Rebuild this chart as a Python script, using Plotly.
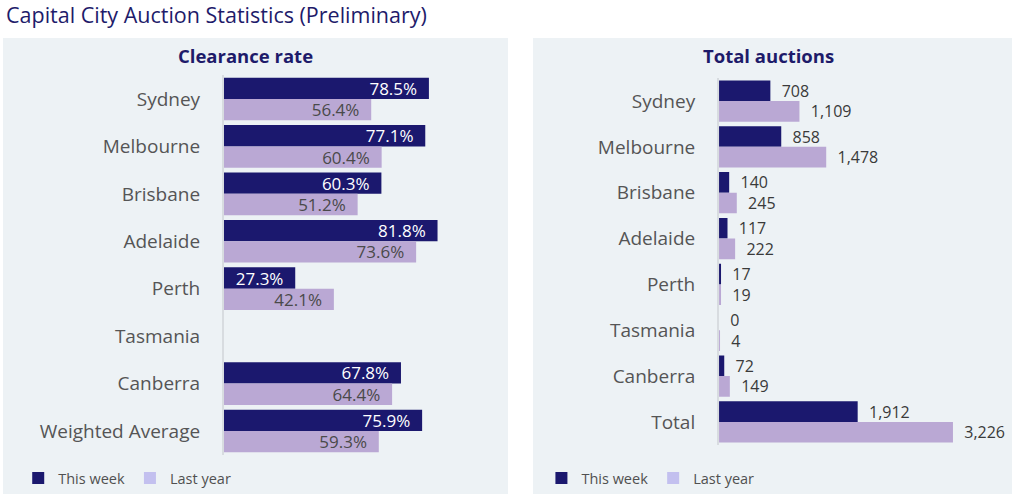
import plotly.graph_objects as go

cities = ["Sydney", "Melbourne", "Brisbane", "Adelaide", "Perth", "Tasmania", "Canberra"]
rate_labels = cities + ["Weighted Average"]
auction_labels = cities + ["Total"]

rate_this_week = [78.5, 77.1, 60.3, 81.8, 27.3, None, 67.8, 75.9]
rate_last_year = [56.4, 60.4, 51.2, 73.6, 42.1, None, 64.4, 59.3]

auctions_this_week = [708, 858, 140, 117, 17, 0, 72, 1912]
auctions_last_year = [1109, 1478, 245, 222, 19, 4, 149, 3226]

NAVY = "#1B186E"
LAVENDER = "#BAA8D4"
LEGEND_LAV = "#C3C0EF"
PANEL = "#EDF2F5"
FONT = "Open Sans"
nb = "\u00a0"

fig = go.Figure()

# clearance rate (left)
fig.add_trace(go.Bar(
    y=rate_labels, x=rate_this_week, orientation="h", name="This week",
    marker=dict(color=NAVY, line=dict(width=0)),
    text=[f"{v:.1f}%{nb}{nb}" if v is not None else "" for v in rate_this_week],
    textposition="inside", insidetextanchor="end", constraintext="none",
    textfont=dict(color="white", size=17, family=FONT),
    xaxis="x", yaxis="y", showlegend=False, hoverinfo="x+y"))
fig.add_trace(go.Bar(
    y=rate_labels, x=rate_last_year, orientation="h", name="Last year",
    marker=dict(color=LAVENDER, line=dict(width=0)),
    text=[f"{v:.1f}%{nb}{nb}" if v is not None else "" for v in rate_last_year],
    textposition="inside", insidetextanchor="end", constraintext="none",
    textfont=dict(color="#4A4A4A", size=17, family=FONT),
    xaxis="x", yaxis="y", showlegend=False, hoverinfo="x+y"))

# total auctions (right)
fig.add_trace(go.Bar(
    y=auction_labels, x=auctions_this_week, orientation="h", name="This week",
    marker=dict(color=NAVY, line=dict(width=0)),
    text=[f"{nb}{nb}{v:,}" for v in auctions_this_week],
    textposition="outside", cliponaxis=False, constraintext="none",
    textfont=dict(color="#3A3A3A", size=16, family=FONT),
    xaxis="x2", yaxis="y2", showlegend=False, hoverinfo="x+y"))
fig.add_trace(go.Bar(
    y=auction_labels, x=auctions_last_year, orientation="h", name="Last year",
    marker=dict(color=LAVENDER, line=dict(width=0)),
    text=[f"{nb}{nb}{v:,}" for v in auctions_last_year],
    textposition="outside", cliponaxis=False, constraintext="none",
    textfont=dict(color="#3A3A3A", size=16, family=FONT),
    xaxis="x2", yaxis="y2", showlegend=False, hoverinfo="x+y"))

# legend swatches
for name, col in [("This week", NAVY), ("Last year", LEGEND_LAV)]:
    for ax, lg in [(("x", "y"), "legend"), (("x2", "y2"), "legend2")]:
        fig.add_trace(go.Scatter(
            x=[None], y=[None], mode="markers", name=name,
            marker=dict(symbol="square", size=12, color=col),
            xaxis=ax[0], yaxis=ax[1], legend=lg, showlegend=True))

yaxis_common = dict(
    type="category", autorange="reversed", showgrid=False, zeroline=False,
    showline=True, linecolor="#D8DCE0", linewidth=2,
    ticks="", ticklabelstandoff=18,
    tickfont=dict(size=19, color="#555555", family=FONT))
xaxis_common = dict(showgrid=False, zeroline=False, showticklabels=False,
                    showline=False, fixedrange=True)

legend_common = dict(orientation="h", yanchor="middle", xanchor="left",
                     bgcolor="rgba(0,0,0,0)", itemwidth=30,
                     font=dict(size=14.5, color="#505050", family=FONT))

fig.update_layout(
    width=1012, height=494,
    margin=dict(l=0, r=0, t=0, b=0),
    paper_bgcolor="white", plot_bgcolor="rgba(0,0,0,0)",
    barmode="group", bargap=0.1, bargroupgap=0,
    xaxis=dict(domain=[0.2213, 0.4793], range=[0, 100], **xaxis_common),
    yaxis=dict(domain=[0.0796, 0.8476], anchor="x", **yaxis_common),
    xaxis2=dict(domain=[0.7105, 0.9828], range=[0, 3800], anchor="y2", **xaxis_common),
    yaxis2=dict(domain=[0.0994, 0.8419], anchor="x2", **yaxis_common),
    legend=dict(x=0.018, y=0.032, **legend_common),
    legend2=dict(x=0.535, y=0.032, **legend_common),
    shapes=[
        dict(type="rect", xref="paper", yref="paper", x0=3/1012, x1=508/1012,
             y0=0, y1=1-38/494, fillcolor=PANEL, line=dict(width=0), layer="below"),
        dict(type="rect", xref="paper", yref="paper", x0=533/1012, x1=1,
             y0=0, y1=1-38/494, fillcolor=PANEL, line=dict(width=0), layer="below"),
    ],
    annotations=[
        dict(text="Capital City Auction Statistics (Preliminary)", xref="paper", yref="paper",
             x=4/1012, y=1-14/494, xanchor="left", yanchor="middle", showarrow=False,
             font=dict(size=21.5, color="#1E1B6A", family=FONT)),
        dict(text="<b>Clearance rate</b>", xref="paper", yref="paper",
             x=245/1012, y=1-55/494, xanchor="center", yanchor="middle", showarrow=False,
             font=dict(size=18.5, color="#1E1B6A", family=FONT)),
        dict(text="<b>Total auctions</b>", xref="paper", yref="paper",
             x=768/1012, y=1-55/494, xanchor="center", yanchor="middle", showarrow=False,
             font=dict(size=18.5, color="#1E1B6A", family=FONT)),
    ],
)

fig.write_html("out.html", config={"displayModeBar": False},
               post_script="document.body.style.margin='0';")
